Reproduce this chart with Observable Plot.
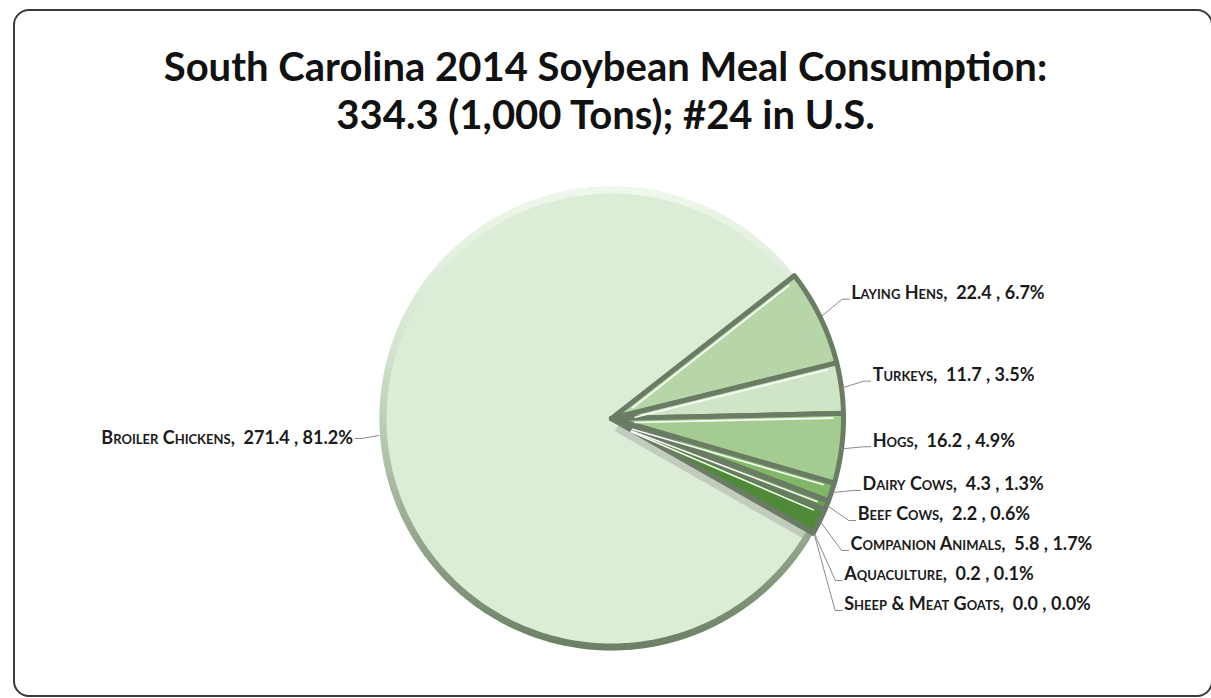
<!DOCTYPE html>
<html><head><meta charset="utf-8">
<script src="https://cdn.jsdelivr.net/npm/d3@7"></script>
<script src="https://cdn.jsdelivr.net/npm/@observablehq/plot@0.6"></script>
<style>
body{margin:0;background:#fff;}
#wrap{position:relative;width:1211px;height:698px;overflow:hidden;font-family:Lato,"Open Sans",sans-serif;}
#frame{position:absolute;left:13px;top:9px;width:1200px;height:688px;border:2px solid #3a3a3a;border-radius:16px;box-sizing:border-box;}
#title{position:absolute;left:0;width:1211px;top:42px;text-align:center;font-weight:700;font-size:40px;line-height:48px;color:#111;}
#chart{position:absolute;left:0;top:150px;}
</style></head><body>
<div id="wrap"><div id="frame"></div>
<div id="title">South Carolina 2014 Soybean Meal Consumption:<br>334.3 (1,000 Tons); #24 in U.S.</div>
<div id="chart"></div></div>
<script>
// ---- data ----
const categories = ["Laying Hens","Turkeys","Hogs","Dairy Cows","Beef Cows","Companion Animals","Aquaculture","Sheep & Meat Goats","Broiler Chickens"];
const values = [22.4, 11.7, 16.2, 4.3, 2.2, 5.8, 0.2, 0.0, 271.4];
const percents = [6.7, 3.5, 4.9, 1.3, 0.6, 1.7, 0.1, 0.0, 81.2];
const sliceColors = ["#b6d6a8","#cfe5c6","#a4cc90","#80b867","#66a14b","#4f8a38","#3b6e29","#2f5a20","#dcedd7"];

// ---- layout ----
const W = 1211, H = 540, R = 232, CX = 611, CY = 268;
const startDeg = 52;
const a0 = startDeg * Math.PI / 180;
const arcs = d3.pie().value(d => d).sort(null).startAngle(a0).endAngle(a0 + 2 * Math.PI)(values);
const pt = (a, r) => ({x: r * Math.sin(a), y: r * Math.cos(a)});
const BROILER = categories.length - 1;

function slicePts(i) {
  const {startAngle: s, endAngle: e} = arcs[i];
  const n = Math.max(2, Math.ceil((e - s) / (Math.PI / 360)));
  const pts = [{x: 0, y: 0}];
  for (let k = 0; k <= n; k++) pts.push(pt(s + (e - s) * k / n, 1));
  pts.push({x: 0, y: 0});
  return pts.map(p => ({...p, name: categories[i], color: sliceColors[i]}));
}
const broilerPts = slicePts(BROILER);
const smallPts = categories.flatMap((c, i) => (i !== BROILER && values[i] > 0) ? slicePts(i) : []);

// rim of the big slice
const rimPts = (() => {
  const {startAngle: s, endAngle: e} = arcs[BROILER];
  const n = 400, out = [];
  for (let k = 0; k <= n; k++) out.push(pt(s + (e - s) * k / n, 1 - 3.5 / R));
  return out;
})();

// white highlights along the leading edge of each small slice
const hiPts = categories.flatMap((c, i) => {
  if (i === BROILER || (arcs[i].endAngle - arcs[i].startAngle) < 0.02) return [];
  const a = arcs[i].startAngle, off = 4.5 / R;
  return [0.1, 0.955].map(t => ({x: t * Math.sin(a) + off * Math.cos(a), y: t * Math.cos(a) - off * Math.sin(a), name: c}));
});
// soft shadow on the big slice along its first edge
const shadowPts = (() => {
  const a = arcs[BROILER].startAngle, off = 6 / R;
  return [0.04, 0.975].map(t => ({x: t * Math.sin(a) + off * Math.cos(a), y: t * Math.cos(a) - off * Math.sin(a)}));
})();

// labels: anchored at the rim at mid-angle, pushed apart vertically
const labels = categories.map((c, i) => {
  const mid = (arcs[i].startAngle + arcs[i].endAngle) / 2;
  const rim = pt(mid, 1.005);
  const right = Math.sin(mid) >= 0;
  return {name: c, i, mid, rim, right,
    text: `${c},\u00a0 ${values[i].toFixed(1)} , ${percents[i].toFixed(1)}%`,
    ty: right ? rim.y + (8 + 35 * Math.max(0, Math.cos(mid))) / R : rim.y - 3 / R,
    tx: right ? rim.x + 30 / R : rim.x - 26 / R};
});
for (const side of [true, false]) {
  const group = labels.filter(d => d.right === side).sort((a, b) => b.ty - a.ty);
  for (let k = 1; k < group.length; k++) group[k].ty = Math.min(group[k].ty, group[k - 1].ty - 30 / R);
}
const leaderPts = labels.flatMap(d => {
  const ly = d.right ? d.ty - 6 / R : d.ty;
  const dir = d.right ? 1 : -1;
  return [
    {x: d.rim.x, y: d.rim.y, name: d.name},
    {x: d.tx - dir * 9 / R, y: ly, name: d.name},
    {x: d.tx - dir * 2 / R, y: ly, name: d.name}
  ];
});

const labelStyle = {x: "tx", y: "ty", text: "text", fontSize: 18, fontWeight: 700, fontVariant: "small-caps",
  fill: "#1b1b1b", fontFamily: "Lato, 'Open Sans', sans-serif"};

const chart = Plot.plot({
  width: W, height: H, margin: 0,
  x: {domain: [-CX / R, (W - CX) / R], axis: null},
  y: {domain: [-(H - CY) / R, CY / R], axis: null},
  color: {type: "identity"},
  marks: [
    Plot.line(broilerPts, {x: "x", y: "y", z: "name", fill: "color", stroke: "none", curve: "linear"}),
    Plot.line(shadowPts, {x: "x", y: "y", stroke: "#c2ccbe", strokeWidth: 7, strokeLinecap: "butt"}),
    Plot.line(rimPts, {x: "x", y: "y", stroke: "url(#rimGrad)", strokeWidth: 7, curve: "linear"}),
    Plot.line(smallPts, {x: "x", y: "y", z: "name", fill: "color", stroke: "#6a7c64", strokeWidth: 5, strokeLinejoin: "round", curve: "linear"}),
    Plot.line(hiPts, {x: "x", y: "y", z: "name", stroke: "#ffffff", strokeWidth: 1.6, strokeOpacity: 0.95}),
    Plot.line(leaderPts, {x: "x", y: "y", z: "name", stroke: "#8a8a8a", strokeWidth: 1}),
    Plot.text(labels.filter(d => d.right), {...labelStyle, textAnchor: "start"}),
    Plot.text(labels.filter(d => !d.right), {...labelStyle, textAnchor: "end"})
  ]
});
const ns = "http://www.w3.org/2000/svg";
const defs = document.createElementNS(ns, "defs");
defs.innerHTML = `<linearGradient id="rimGrad" x1="0" y1="0" x2="0" y2="1">
  <stop offset="0" stop-color="#eef7eb"/><stop offset="0.35" stop-color="#d3e4ce"/>
  <stop offset="0.65" stop-color="#a6b9a0"/><stop offset="1" stop-color="#6c8066"/></linearGradient>`;
chart.insertBefore(defs, chart.firstChild);
document.getElementById("chart").appendChild(chart);
</script>
</body></html>
